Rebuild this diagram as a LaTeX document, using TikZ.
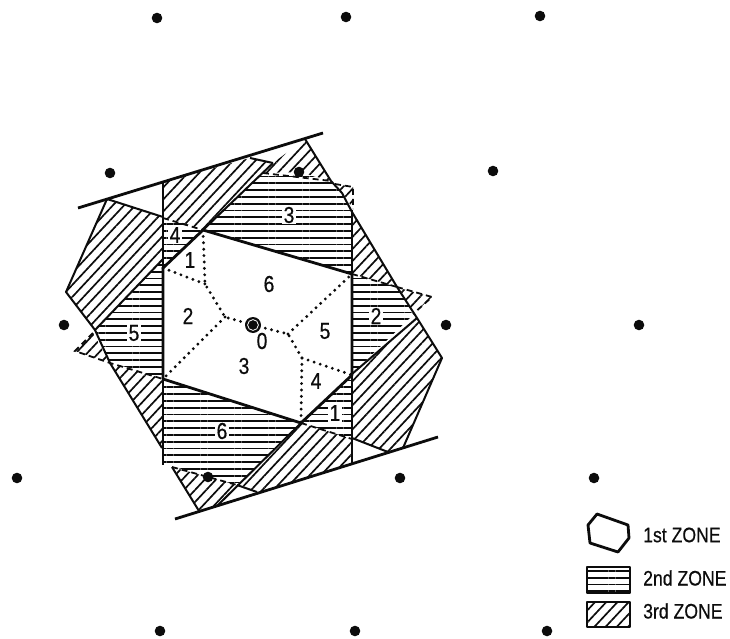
\documentclass[tikz,border=0pt]{standalone}
\usepackage{xcolor}
\usepackage{fontspec}
\setmainfont[FakeStretch=0.84,FakeBold=0.5]{Liberation Sans}
\usetikzlibrary{patterns.meta}
\definecolor{zoneink}{RGB}{12,12,12}
\tikzset{
  zonetwo/.style={pattern={Lines[angle=0,distance=6.8pt,line width=1.8pt]},pattern color=zoneink},
  zonethree/.style={pattern={Lines[angle=47,distance=8.2pt,line width=1.7pt]},pattern color=zoneink},
  edgeline/.style={zoneink,line width=2pt,line join=round},
  boldline/.style={zoneink,line width=2.8pt,line join=round},
  dashline/.style={zoneink,line width=1.8pt,dash pattern=on 6pt off 4pt},
  dotline/.style={zoneink,line width=3.2pt,line cap=round,dash pattern=on 0pt off 6.4pt},
  onhatch/.style={font=\fontsize{23}{23}\selectfont,text=zoneink,fill=white,inner sep=1.2pt},
  onwhite/.style={font=\fontsize{23}{23}\selectfont,text=zoneink,inner sep=0pt},
  legendtext/.style={font=\fontsize{21}{21}\selectfont,text=zoneink,anchor=west,inner sep=0pt}
}
\begin{document}
\begin{tikzpicture}[x=1pt,y=-1pt]
\useasboundingbox (0,0) rectangle (730,639);
% third zone
\path[zonethree] (163,182) -- (250,158) -- (273,163) -- (262,173) -- (203,230) -- (178,221) -- (163,218) -- cycle;
\path[zonethree] (273,163) -- (305,139) -- (331,181) -- (300,172) -- (263,173) -- cycle;
\path[zonethree] (335,184) -- (353,187) -- (353,209) -- (343,193) -- cycle;
\path[zonethree] (107,199) -- (163,217) -- (163,259) -- (95,330) -- (66,292) -- cycle;
\path[zonethree] (352,212) -- (397,287) -- (352,274) -- cycle;
\path[zonethree] (399,288) -- (432,297) -- (413,314) -- (404,297) -- cycle;
\path[zonethree] (352,374) -- (417,318) -- (442,358) -- (403,448) -- (388,452) -- (352,438) -- cycle;
\path[zonethree] (75,351) -- (93,333) -- (110,363) -- cycle;
\path[zonethree] (110,363) -- (130,368) -- (163,379) -- (163,449) -- cycle;
\path[zonethree] (172,467) -- (208,477) -- (237,485) -- (217,505) -- (199,511) -- cycle;
\path[zonethree] (301,423) -- (340,435) -- (352,439) -- (352,464) -- (263,492) -- (255,492) -- (240,484) -- cycle;
% second zone
\path[zonetwo] (203,230) -- (262,173) -- (300,172) -- (331,182) -- (342,193) -- (352,212) -- (352,274) -- cycle;
\path[zonetwo] (163,218) -- (178,221) -- (203,230) -- (163,268) -- cycle;
\path[zonetwo] (352,274) -- (397,287) -- (404,297) -- (413,315) -- (352,374) -- cycle;
\path[zonetwo] (163,260) -- (95,330) -- (110,363) -- (130,368) -- (163,379) -- cycle;
\path[zonetwo] (163,379) -- (301,423) -- (237,485) -- (208,477) -- (175,467) -- (163,463) -- cycle;
\path[zonetwo] (352,375) -- (352,439) -- (340,435) -- (301,423) -- cycle;
% outlines
\draw[edgeline] (107,199) -- (66,292) -- (95,330) -- (110,363) -- (162,448);
\draw[edgeline] (107,199) -- (163,217);
\draw[edgeline] (172,467) -- (199,511);
\draw[edgeline] (250,158) -- (273,163);
\draw[edgeline] (305,139) -- (331,181) -- (342,193) -- (352,212);
\draw[edgeline] (352,212) -- (397,287) -- (417,318) -- (442,358) -- (403,448);
\draw[edgeline] (352,438) -- (388,452);
\draw[edgeline] (237,485) -- (257,492);
\draw[edgeline] (163,259) -- (95,330);
\draw[edgeline] (417,318) -- (352,374);
\draw[edgeline] (273,163) -- (203,230);
\draw[edgeline] (301,423) -- (217,506);
\draw[dashline] (93,333) -- (75,351) -- (110,363) -- (163,379);
\draw[dashline] (397,287) -- (432,297) -- (413,314);
\draw[dashline] (163,218) -- (203,230);
\draw[dashline] (352,274) -- (397,287);
\draw[dashline] (335,184) -- (353,187) -- (353,209);
\draw[dashline] (301,423) -- (352,439);
\draw[dashline] (172,467) -- (237,485);
\draw[dashline] (263,173) -- (331,181);
\draw[boldline] (163,182) -- (163,465);
\draw[boldline] (352,210) -- (352,464);
\draw[boldline] (78,208) -- (323,133);
\draw[boldline] (175,519) -- (438,437);
% first zone
\draw[boldline] (203,230) -- (352,274) -- (352,375) -- (301,423) -- (163,379) -- (163,268) -- cycle;
\draw[dotline] (203,230) -- (205,284) -- (225,317) -- (253,325) -- (288,334) -- (302,358) -- (301,423);
\draw[dotline] (163,268) -- (205,284);
\draw[dotline] (225,317) -- (163,379);
\draw[dotline] (288,334) -- (352,274);
\draw[dotline] (302,358) -- (352,375);
% lattice points
\foreach \px/\py in {157/18,346/17,540/16,110/173,299/172,493/171,64/325,446/325,639/325,17/478,208/477,400/478,594/478,160/631,355/631,547/631}
  \fill[zoneink] (\px,\py) circle (5.3pt);
\fill[zoneink] (253,325) circle (8pt);
\draw[white,line width=0.8pt] (253,325) circle (5.4pt);
% labels in the zones
\node[onhatch] (lab3b) at (289,215) {3};
\node[onhatch] (lab5b) at (134,333) {5};
\node[onhatch] (lab6b) at (222,431) {6};
\node[onhatch] (lab1b) at (335,413) {1};
\node[onhatch] (lab2b) at (376,316) {2};
\node[onhatch] (lab4b) at (175,235) {4};
\node[onwhite] (lab1a) at (190,260) {1};
\node[onwhite] (lab6a) at (269,284) {6};
\node[onwhite] (lab2a) at (188,316) {2};
\node[onwhite] (lab5a) at (325,331) {5};
\node[onwhite] (lab0) at (262,341) {0};
\node[onwhite] (lab3a) at (244,366) {3};
\node[onwhite] (lab4a) at (316,381) {4};
% legend
\draw[boldline] (597,514) -- (628,525) -- (629,538) -- (618,552) -- (590,543) -- (588,525) -- cycle;
\draw[edgeline,zonetwo] (587,567) rectangle (630,593);
\draw[edgeline,zonethree] (587,602) rectangle (630,627);
\node[legendtext] (first) at (643,535) {1st ZONE};
\node[legendtext] (second) at (643,578) {2nd ZONE};
\node[legendtext] (third) at (643,611) {3rd ZONE};
\end{tikzpicture}
\end{document}
